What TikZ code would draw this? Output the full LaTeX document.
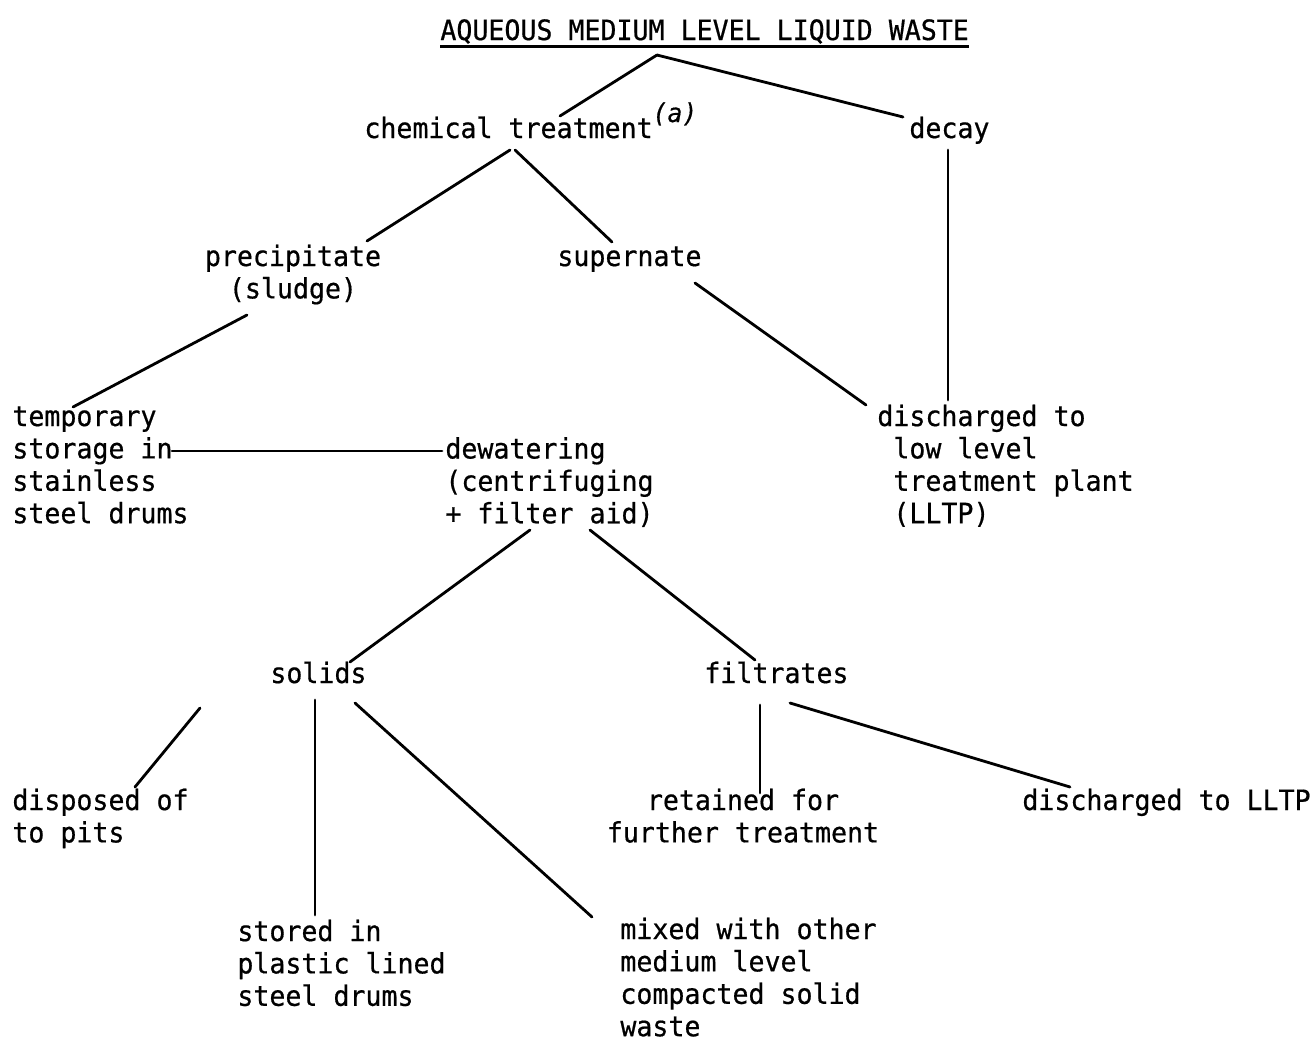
\documentclass[tikz,border=0pt]{standalone}
\usepackage{fontspec}
\setmainfont{DejaVu Sans Mono}[FakeStretch=0.95, FakeBold=0.6]
\usetikzlibrary{calc}
\newcommand{\lines}[2][l]{\begin{tabular}[t]{@{}#1@{}}#2\end{tabular}}
\begin{document}
\begin{tikzpicture}[x=0.5pt,y=-0.5pt,
  txt/.style={inner sep=0pt, anchor=base west, font=\fontsize{14}{16.2}\selectfont},
  ctxt/.style={txt, anchor=base},
  link/.style={line width=1.4pt, line cap=round}]
\useasboundingbox[fill=white] (0,0) rectangle (1313,1039);

% labels
\node[txt] (title) at (440,40) {AQUEOUS MEDIUM LEVEL LIQUID WASTE};
\node[txt] (chem) at (364,138) {chemical treatment\raisebox{8pt}{\fontsize{13}{13}\selectfont\itshape(a)}};
\node[txt] (decay) at (909,138) {decay};
\node[ctxt] (prec) at (293,266) {\lines[c]{precipitate\\(sludge)}};
\node[txt] (super) at (557,266) {supernate};
\node[txt] (temp) at (12,426) {\lines{temporary\\storage in\\stainless\\steel drums}};
\node[txt] (dewat) at (445,458.5) {\lines{dewatering\\(centrifuging\\+ filter aid)}};
\node[txt] (disch) at (877,426) {\lines{discharged to\\\phantom{x}low level\\\phantom{x}treatment plant\\\phantom{x}(LLTP)}};
\node[txt] (solids) at (270,683) {solids};
\node[txt] (filt) at (704,683) {filtrates};
\node[txt] (disp) at (12,810) {\lines{disposed of\\to pits}};
\node[ctxt] (ret) at (743,810) {\lines[c]{retained for\\further treatment}};
\node[txt] (lltp) at (1022,810) {discharged to LLTP};
\node[txt] (stored) at (237,941) {\lines{stored in\\plastic lined\\steel drums}};
\node[txt] (mixed) at (620,939) {\lines{mixed with other\\medium level\\compacted solid\\waste}};

% title underline
\draw[line width=1.5pt] ([shift={(0,6)}]title.base west) -- ([shift={(0,6)}]title.base east);

% connectors
\draw[link] ([shift={(217,15)}]title.base west) -- ([shift={(196,-22)}]chem.base west);
\draw[link] ([shift={(217,15)}]title.base west) -- ([shift={(-6,-21)}]decay.base west);
\draw[link] ([shift={(146,12)}]chem.base west) -- ([shift={(74,-25)}]prec.base);
\draw[link] ([shift={(151,12)}]chem.base west) -- ([shift={(55,-24)}]super.base west);
\draw[link] ([shift={(39,12)}]decay.base west) -- ([shift={(71,-26)}]disch.base west);
\draw[link] ([shift={(138,17)}]super.base west) -- ([shift={(-11,-21)}]disch.base west);
\draw[link] ([shift={(-46,49)}]prec.base) -- ([shift={(61,-19)}]temp.base west);
\draw[link] ([shift={(160,25)}]temp.base west) -- ([shift={(-3,-7.5)}]dewat.base west);
\draw[link] ([shift={(85,71.5)}]dewat.base west) -- ([shift={(80,-21)}]solids.base west);
\draw[link] ([shift={(145,71.5)}]dewat.base west) -- ([shift={(51,-23)}]filt.base west);
\draw[link] ([shift={(-70,25)}]solids.base west) -- ([shift={(123,-23)}]disp.base west);
\draw[link] ([shift={(45,17)}]solids.base west) -- ([shift={(78,-26)}]stored.base west);
\draw[link] ([shift={(85,20)}]solids.base west) -- ([shift={(-28,-22)}]mixed.base west);
\draw[link] ([shift={(56,22)}]filt.base west) -- ([shift={(17,-17)}]ret.base);
\draw[link] ([shift={(86,20)}]filt.base west) -- ([shift={(48,-23)}]lltp.base west);
\end{tikzpicture}
\end{document}
